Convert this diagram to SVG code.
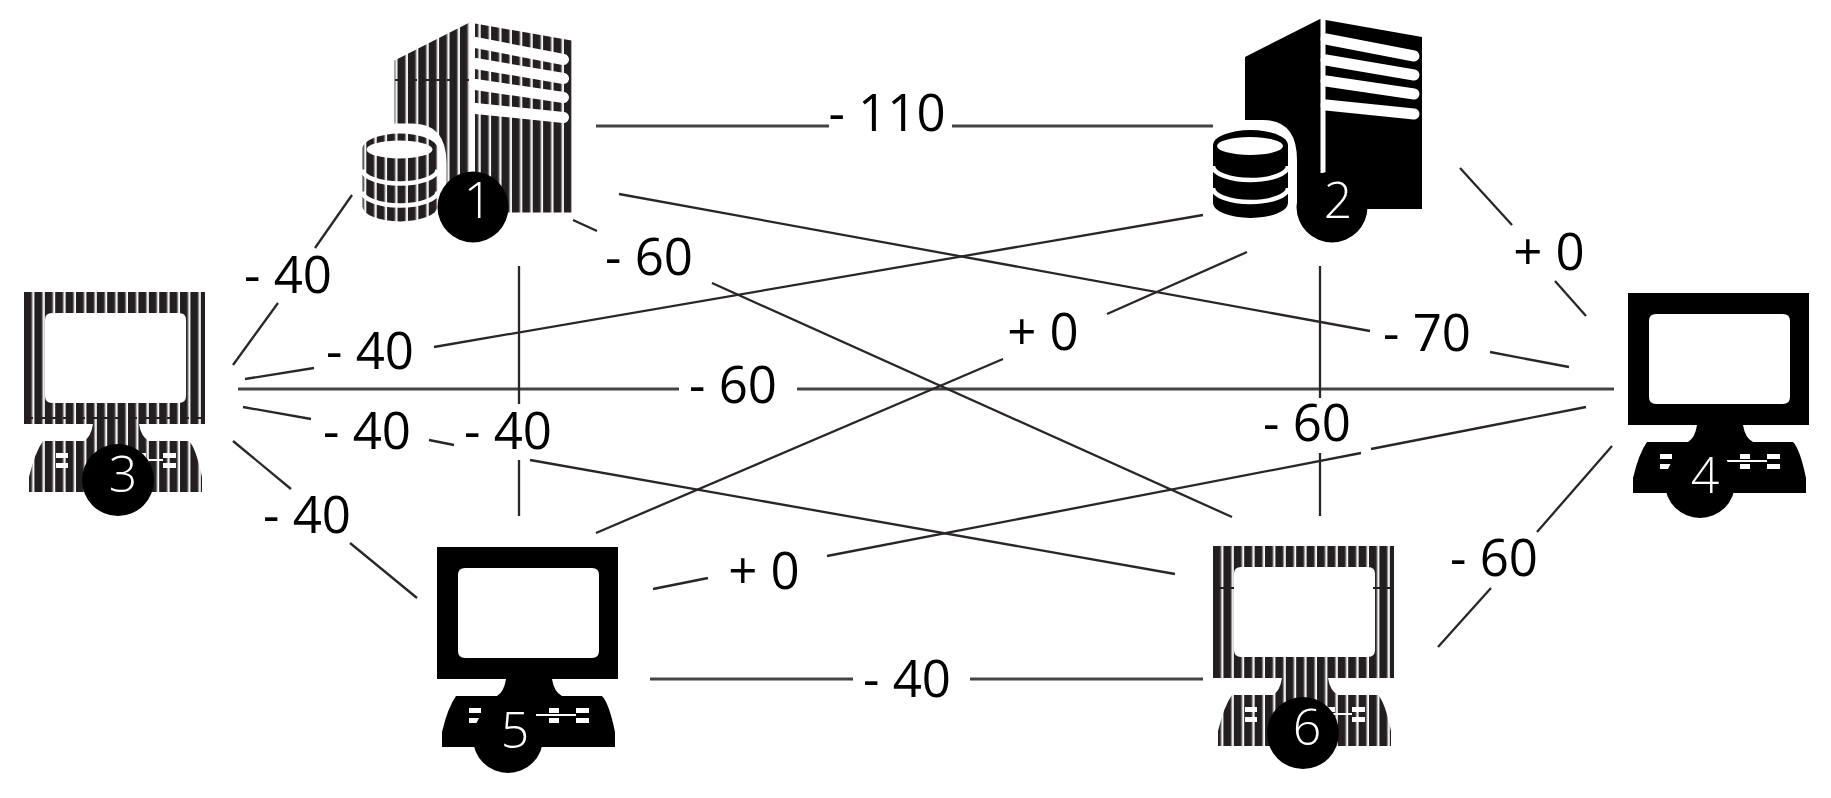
<svg xmlns="http://www.w3.org/2000/svg" width="1831" height="798" viewBox="0 0 1831 798">
<style>
text{font-family:"Open Sans","Noto Sans","Liberation Sans",sans-serif;font-size:51px;text-anchor:middle}
.lb{fill:#000}
.num{fill:#fff;font-size:50px;font-weight:300}
.c line{stroke:#2a2627;stroke-width:2.300}
.c line.h{stroke:#444;stroke-width:3}
.solid{fill:#000}
.st{fill:url(#stripes)}
.w{fill:#fff}
.band{stroke:#fff;stroke-width:11;stroke-linecap:round;fill:none}
.dash{stroke:#231f20;stroke-width:1.800;fill:none;stroke-dasharray:9 4}
</style>
<defs>
<pattern id="stripes" patternUnits="userSpaceOnUse" width="10.4" height="20">
<rect width="10.4" height="20" fill="#fff"/>
<rect x="0" width="7.500" height="20" fill="#231f20"/>
<rect x="7.500" width="1.200" height="20" fill="#8a8686"/>
</pattern>
<path id="computer" fill-rule="evenodd" d="M0 0H181V132H115Q117 145 125 149H165Q172 156 178 185V200H5V185Q11 160 19 149H60Q67 145 69 132H0ZM28 21Q21 21 21 28V104Q21 111 28 111H155Q162 111 162 104V28Q162 21 155 21ZM32 161V166H44V161ZM32 171V176H44V171ZM112 161V166H122V161ZM112 171V176H122V171ZM139 161V166H152V161ZM139 171V176H152V171ZM99 167V169H139V167Z"/>
<g id="server">
<path d="M1245 57L1320 19L1422 37V209H1297V160Q1297 120 1263 120H1245Z"/>
<path class="w" d="M1320.500 19H1325.500V173H1320.500Z"/>
<g class="band">
<path d="M1326 39L1414 56"/>
<path d="M1326 60L1414 75"/>
<path d="M1326 81L1414 94"/>
<path d="M1326 105L1414 114"/>
</g>
<path d="M1213 145A37.500 15 0 0 1 1288 145V203A37.500 15 0 0 1 1213 203Z"/>
<ellipse class="w" cx="1250" cy="146" rx="33" ry="9"/>
<g fill="none" stroke="#fff" stroke-width="4.500">
<path d="M1213 166A37.500 14 0 0 0 1288 166"/>
<path d="M1213 188A37.500 14 0 0 0 1288 188"/>
</g>
</g>
</defs>
<rect width="1831" height="798" fill="#fff"/>
<g id="connectors" class="c">
<line class="h" x1="596" y1="126" x2="829" y2="126"/>
<line class="h" x1="952" y1="126" x2="1213" y2="126"/>
<line x1="352" y1="195" x2="315" y2="248"/>
<line x1="278" y1="303" x2="233" y2="365"/>
<line x1="245" y1="379" x2="314" y2="368"/>
<line x1="434" y1="347" x2="1203" y2="215"/>
<line class="h" x1="238" y1="389" x2="679" y2="389"/>
<line class="h" x1="797" y1="389" x2="1614" y2="389"/>
<line x1="243" y1="407" x2="311" y2="419"/>
<line x1="429" y1="440" x2="454" y2="445"/>
<line x1="530" y1="460" x2="1175" y2="574"/>
<line x1="519" y1="266" x2="519" y2="404"/>
<line x1="519" y1="460" x2="519" y2="516"/>
<line x1="233" y1="441" x2="291" y2="489"/>
<line x1="350" y1="543" x2="417" y2="598"/>
<line x1="573" y1="220" x2="597" y2="231"/>
<line x1="712" y1="283" x2="1232" y2="517"/>
<line x1="619" y1="194" x2="1370" y2="331"/>
<line x1="1490" y1="352" x2="1569" y2="367"/>
<line x1="1247" y1="252" x2="1107" y2="314"/>
<line x1="1003" y1="359" x2="596" y2="533"/>
<line x1="1460" y1="168" x2="1512" y2="225"/>
<line x1="1555" y1="281" x2="1586" y2="316"/>
<line x1="1320" y1="266" x2="1320" y2="398"/>
<line x1="1320" y1="453" x2="1320" y2="516"/>
<line x1="1586" y1="407" x2="1371" y2="449"/>
<line x1="1361" y1="453" x2="827" y2="556"/>
<line x1="708" y1="578" x2="653" y2="589"/>
<line x1="1612" y1="446" x2="1537" y2="532"/>
<line x1="1491" y1="588" x2="1438" y2="647"/>
<line class="h" x1="650" y1="679" x2="853" y2="679"/>
<line class="h" x1="970" y1="679" x2="1203" y2="679"/>
</g>
<g id="edge-labels">
<text class="lb" x="887" y="131">- 110</text>
<text class="lb" x="288" y="293">- 40</text>
<text class="lb" x="370" y="369">- 40</text>
<text class="lb" x="733" y="403">- 60</text>
<text class="lb" x="367" y="449">- 40</text>
<text class="lb" x="508" y="449">- 40</text>
<text class="lb" x="307" y="533">- 40</text>
<text class="lb" x="649" y="275">- 60</text>
<text class="lb" x="1427" y="351">- 70</text>
<text class="lb" x="1043" y="350">+ 0</text>
<text class="lb" x="1549" y="270">+ 0</text>
<text class="lb" x="1307" y="441">- 60</text>
<text class="lb" x="764" y="589">+ 0</text>
<text class="lb" x="1494" y="576">- 60</text>
<text class="lb" x="907" y="697">- 40</text>
</g>
<g id="node1">
<use href="#server" class="st" transform="translate(-850.500 3.500)"/>
<path class="dash" d="M395 80H470"/>
<circle class="solid" cx="473" cy="207" r="35.500"/>
<text class="num" x="478" y="218">1</text>
</g>
<g id="node2">
<use href="#server" class="solid"/>
<circle class="solid" cx="1332" cy="207" r="35.500"/>
<text class="num" x="1338" y="218">2</text>
</g>
<g id="node3">
<use href="#computer" class="st" transform="translate(24 292)"/>
<path class="dash" d="M24 418H205"/>
<circle class="solid" cx="118" cy="480" r="36"/>
<text class="num" x="123" y="492">3</text>
</g>
<g id="node4">
<use href="#computer" class="solid" transform="translate(1628 293)"/>
<circle class="solid" cx="1700" cy="483" r="35"/>
<text class="num" x="1705" y="493">4</text>
</g>
<g id="node5">
<use href="#computer" class="solid" transform="translate(437 547)"/>
<circle class="solid" cx="508" cy="738" r="35"/>
<text class="num" x="515" y="748">5</text>
</g>
<g id="node6">
<use href="#computer" class="st" transform="translate(1213 546)"/>
<path class="dash" d="M1213 588H1234M1373 588H1394" style="stroke-dasharray:none"/>
<circle class="solid" cx="1303" cy="733" r="36"/>
<text class="num" x="1307" y="745">6</text>
</g>
</svg>
